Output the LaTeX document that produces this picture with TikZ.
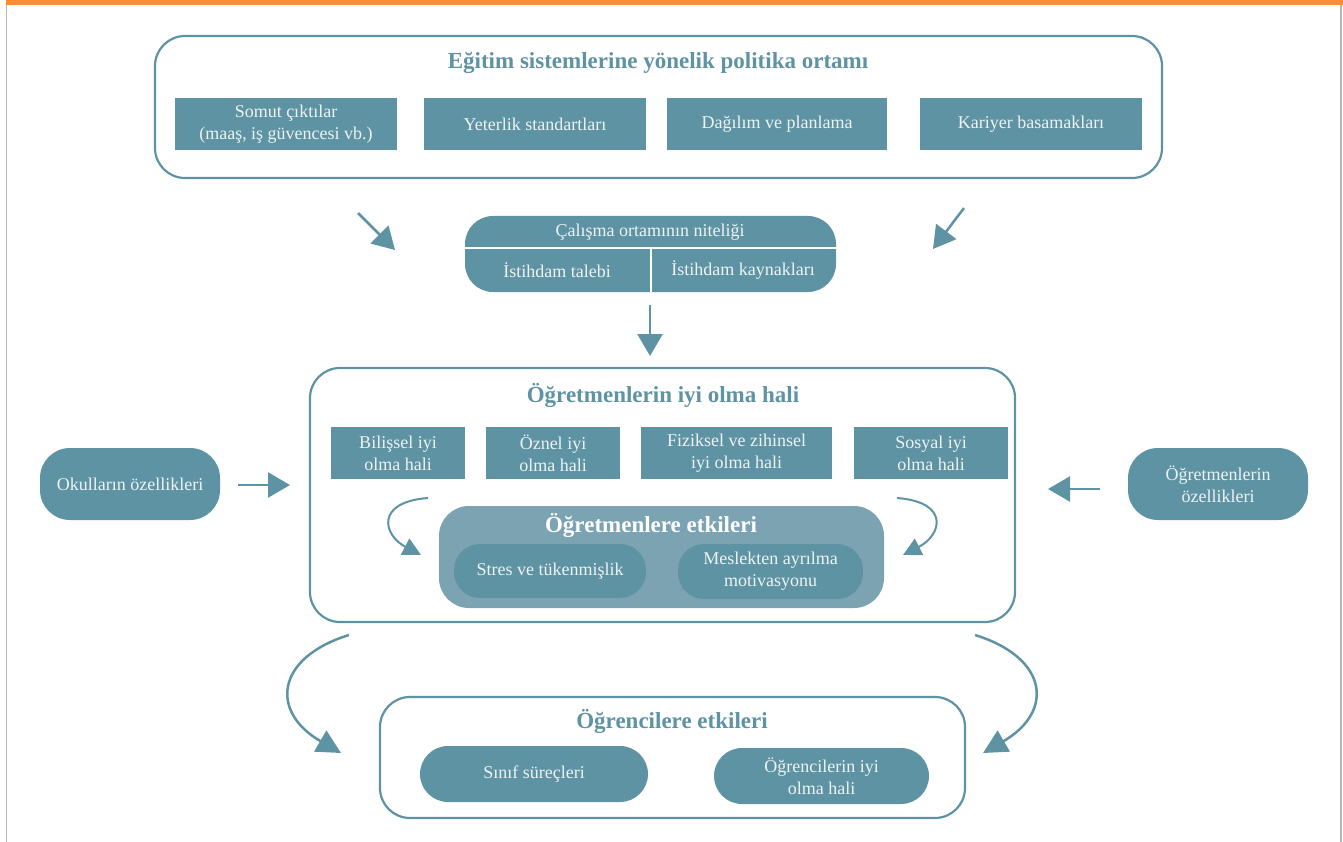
\documentclass[tikz,border=0pt]{standalone}
\usepackage{fontspec}
\setmainfont{Liberation Serif}
\usetikzlibrary{arrows.meta}
\definecolor{teal1}{HTML}{5E93A3}
\definecolor{teal2}{HTML}{7BA3B1}
\definecolor{txt}{HTML}{EEF3F5}
\definecolor{orng}{HTML}{F68D3A}
\definecolor{framec}{HTML}{B5B5B5}
\tikzset{
  outerbox/.style={draw=teal1, line width=2.2pt, rounded corners=30pt, fill=white, inner sep=0pt},
  rectbox/.style={fill=teal1, text=txt, align=center, inner sep=0pt, font=\fontsize{18}{22}\selectfont},
  pillbox/.style={fill=teal1, text=txt, align=center, inner sep=0pt, font=\fontsize{18}{22}\selectfont},
  ttl/.style={text=teal1, font=\bfseries\fontsize{23}{26}\selectfont, inner sep=0pt},
  plain/.style={text=txt, font=\fontsize{18}{22}\selectfont, inner sep=0pt, align=center},
  arr/.style={draw=teal1, line width=2.5pt, -{Triangle[length=22pt,width=25pt]}},
  carr/.style={draw=teal1, line width=2pt, -{Triangle[length=18pt,width=18pt]}},
  barr/.style={draw=teal1, line width=2.5pt, -{Triangle[length=24pt,width=24pt]}}
}
\begin{document}
\begin{tikzpicture}[x=1pt,y=-1pt]
\useasboundingbox (0,0) rectangle (1343,842);
% frame
\fill[orng] (6,0) rectangle (1343,5);
\draw[framec, line width=1.2pt] (6.5,5) -- (6.5,842);
\draw[framec, line width=1.2pt] (1341,5) -- (1341,842);

% top box
\node[outerbox, minimum width=1007, minimum height=142] (top) at (658.5,107) {};
\node[ttl] (toptitle) at (658,63) {Eğitim sistemlerine yönelik politika ortamı};
\node[rectbox, minimum width=222, minimum height=52] (r1) at (286,124) {Somut çıktılar\\(maaş, iş güvencesi vb.)};
\node[rectbox, minimum width=222, minimum height=52] (r2) at (535,124) {Yeterlik standartları};
\node[rectbox, minimum width=220, minimum height=52] (r3) at (777,124) {Dağılım ve planlama};
\node[rectbox, minimum width=222, minimum height=52] (r4) at (1031,124) {Kariyer basamakları};

% work environment box
\node[pillbox, rounded corners=28pt, minimum width=371, minimum height=76] (cal) at (650.5,254) {};
\draw[white, line width=2.5pt] (cal.west |- 0,248) -- (cal.east |- 0,248);
\draw[white, line width=2.5pt] (651,248) -- (651,292);
\node[plain] (caltitle) at (650,232) {Çalışma ortamının niteliği};
\node[plain] (talep) at (557,270) {İstihdam talebi};
\node[plain] (kaynak) at (743,270) {İstihdam kaynakları};

\coordinate (a1s) at (358,213);
\coordinate (a1e) at (395,250);
\coordinate (a2s) at (964,208);
\coordinate (a2e) at (933,249);
\draw[arr] (a1s) -- (a1e);
\draw[arr] (a2s) -- (a2e);
\coordinate (a3s) at (650,305);
\coordinate (a3e) at (650,356);
\draw[arr] (a3s) -- (a3e);

% middle box
\node[outerbox, minimum width=705, minimum height=254] (mid) at (662.5,495) {};
\node[ttl] (midtitle) at (663,395) {Öğretmenlerin iyi olma hali};
\node[rectbox, minimum width=134, minimum height=52] (m1) at (398,453) {Bilişsel iyi\\olma hali};
\node[rectbox, minimum width=134, minimum height=52] (m2) at (553,453) {Öznel iyi\\olma hali};
\node[rectbox, minimum width=191, minimum height=52] (m3) at (736.5,453) {Fiziksel ve zihinsel\\iyi olma hali};
\node[rectbox, minimum width=154, minimum height=52] (m4) at (931,453) {Sosyal iyi\\olma hali};

\node[fill=teal2, rounded corners=30pt, minimum width=445, minimum height=102, inner sep=0pt] (inner) at (661.5,557) {};
\node[ttl, text=white] (innertitle) at (651,525) {Öğretmenlere etkileri};
\node[pillbox, rounded corners=26pt, minimum width=192, minimum height=54] (p1) at (550,571) {Stres ve tükenmişlik};
\node[pillbox, rounded corners=26pt, minimum width=185, minimum height=55] (p2) at (770.5,571.5) {Meslekten ayrılma\\motivasyonu};

\coordinate (c1s) at (428,498);
\coordinate (c1e) at (421,555);
\coordinate (c2s) at (897,498);
\coordinate (c2e) at (903,555);
\draw[carr] (c1s) .. controls (375,502) and (383,535) .. (c1e);
\draw[carr] (c2s) .. controls (950,502) and (942,535) .. (c2e);

% side pills
\node[pillbox, rounded corners=30pt, minimum width=180, minimum height=72] (okul) at (130,484) {Okulların özellikleri};
\node[pillbox, rounded corners=30pt, minimum width=180, minimum height=72] (ogrt) at (1218,484) {Öğretmenlerin\\özellikleri};
\coordinate (o1s) at (238,485);
\coordinate (o1e) at (290,485);
\draw[arr] (o1s) -- (o1e);
\coordinate (o2s) at (1100,489);
\coordinate (o2e) at (1048,489);
\draw[arr] (o2s) -- (o2e);

% bottom box
\node[outerbox, minimum width=585, minimum height=121] (bot) at (672.5,757.5) {};
\node[ttl] (bottitle) at (672,721) {Öğrencilere etkileri};
\node[pillbox, rounded corners=28pt, minimum width=228, minimum height=56] (s1) at (534,774) {Sınıf süreçleri};
\node[pillbox, rounded corners=28pt, minimum width=215, minimum height=56] (s2) at (821.5,776) {Öğrencilerin iyi\\olma hali};

\coordinate (b1s) at (349,635);
\coordinate (b1e) at (341,753);
\coordinate (b2s) at (975,635);
\coordinate (b2e) at (983,753);
\draw[barr] (b1s) .. controls (275,658) and (270,712) .. (b1e);
\draw[barr] (b2s) .. controls (1049,658) and (1054,712) .. (b2e);
\end{tikzpicture}
\end{document}
